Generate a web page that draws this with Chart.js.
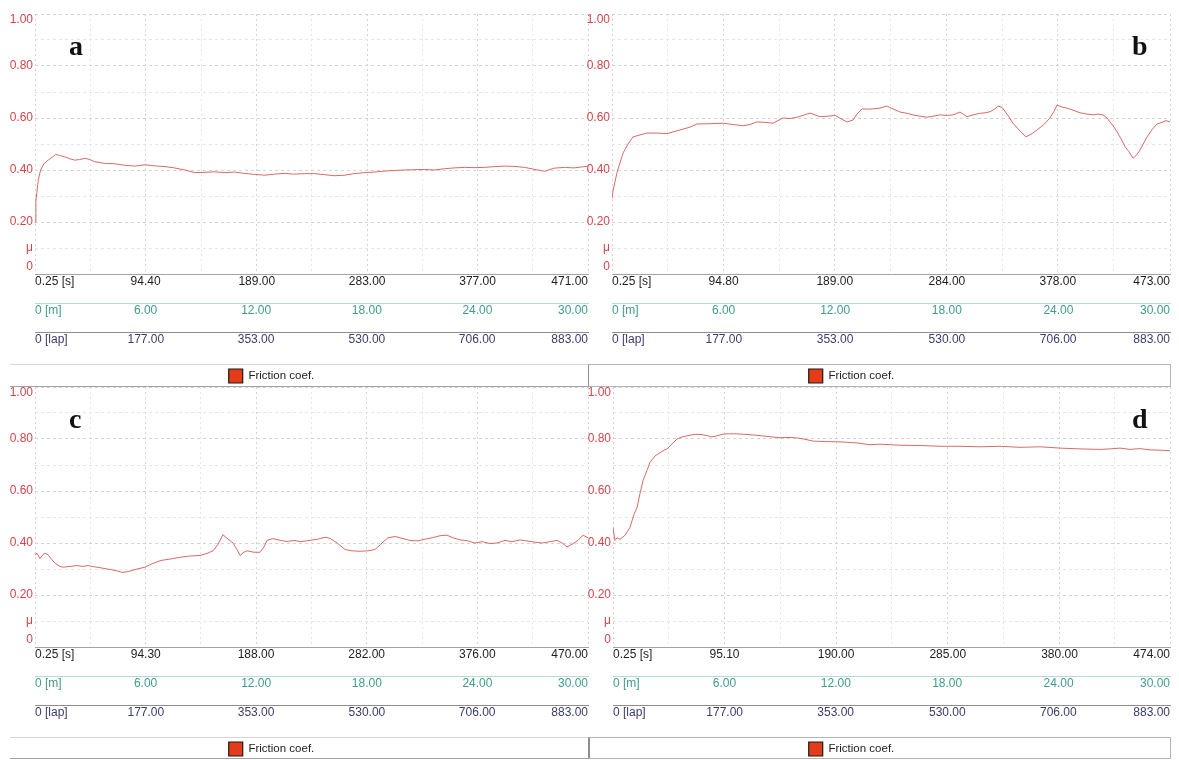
<!DOCTYPE html>
<html>
<head>
<meta charset="utf-8">
<title>Friction coefficient</title>
<script src="https://cdn.jsdelivr.net/npm/chart.js@4.4.1/dist/chart.umd.min.js"></script>
<style>
  html, body { margin: 0; padding: 0; background: #fff; }
  body { position: relative; width: 1179px; height: 760px; overflow: hidden; }
  .frame { position: absolute; box-sizing: border-box; }
  canvas { position: absolute; }
</style>
</head>
<body>
<div class="frame" style="left:10px;top:364px;width:579px;height:23px;border-top:1px solid #d6d6d6;border-bottom:1px solid #a2a2a2;border-right:1px solid #8e8e8e;"></div>
<div class="frame" style="left:588px;top:364px;width:583px;height:23px;border:1px solid #b4b4b4;border-left-color:#8e8e8e;"></div>
<div class="frame" style="left:10px;top:737px;width:580px;height:22px;border-top:1px solid #d6d6d6;border-bottom:1px solid #a2a2a2;border-right:1px solid #8e8e8e;"></div>
<div class="frame" style="left:588px;top:737px;width:583px;height:22px;border:1px solid #b4b4b4;border-left-color:#8e8e8e;"></div>
<script>
const FONT = '"Liberation Sans", Arial, sans-serif';

// ---- axis tick values and labels ----
const muTicks  = [0, 0.1, 0.2, 0.3, 0.4, 0.5, 0.6, 0.7, 0.8, 0.9, 1.0];
const muLabels = ['0', 'μ', '0.20', '', '0.40', '', '0.60', '', '0.80', '', '1.00'];

const distTicks  = [0, 6, 12, 18, 24, 30];
const distLabels = ['0 [m]', '6.00', '12.00', '18.00', '24.00', '30.00'];
const lapTicks   = [0, 177, 353, 530, 706, 883];
const lapLabels  = ['0 [lap]', '177.00', '353.00', '530.00', '706.00', '883.00'];

const secTicksA  = [0.25, 94.4, 189, 283, 377, 471];
const secLabelsA = ['0.25 [s]', '94.40', '189.00', '283.00', '377.00', '471.00'];
const secTicksB  = [0.25, 94.8, 189, 284, 378, 473];
const secLabelsB = ['0.25 [s]', '94.80', '189.00', '284.00', '378.00', '473.00'];
const secTicksC  = [0.25, 94.3, 188, 282, 376, 470];
const secLabelsC = ['0.25 [s]', '94.30', '188.00', '282.00', '376.00', '470.00'];
const secTicksD  = [0.25, 95.1, 190, 285, 380, 474];
const secLabelsD = ['0.25 [s]', '95.10', '190.00', '285.00', '380.00', '474.00'];

// ---- friction coefficient records (time in s, mu) ----
const timeA = [0.25, 1, 3, 5, 8, 12, 16, 18, 21, 26, 30, 34, 38, 43, 47, 51, 60, 68, 77, 85,
  94, 102, 111, 119, 128, 136, 145, 153, 162, 170, 179, 187, 196, 204, 213, 221, 230, 238, 247, 255,
  264, 272, 281, 289, 298, 306, 315, 323, 332, 340, 349, 357, 366, 374, 383, 391, 400, 408, 417, 425,
  434, 442, 451, 459, 466, 471];
const muA = [0.20, 0.28, 0.36, 0.40, 0.425, 0.44, 0.452, 0.46, 0.456, 0.45, 0.443, 0.438, 0.44, 0.445, 0.44, 0.432, 0.425, 0.424, 0.418, 0.415,
  0.42, 0.416, 0.413, 0.408, 0.40, 0.39, 0.391, 0.393, 0.39, 0.392, 0.387, 0.383, 0.38, 0.384, 0.387, 0.384, 0.386, 0.386, 0.382, 0.378,
  0.38, 0.386, 0.39, 0.392, 0.396, 0.398, 0.40, 0.401, 0.402, 0.40, 0.405, 0.408, 0.41, 0.409, 0.41, 0.413, 0.415, 0.414, 0.41, 0.403,
  0.395, 0.407, 0.41, 0.408, 0.412, 0.415];

const timeB = [0.25, 1.1, 4.5, 9.6, 13.8, 18, 24, 29.9, 38.4, 46.8, 57.9, 66.3, 72.3, 83.3, 94.3, 102.8, 111.2, 117.2, 123.1, 129.9,
  136.7, 145.1, 151.1, 157, 162.1, 168, 176.5, 183.3, 189.2, 195.1, 199.4, 204.4, 207.8, 212.1, 218.8, 227.3, 233.2, 238.3, 244.2, 250.2,
  255.3, 261.2, 267.1, 272.2, 278.1, 284.1, 289.1, 295.1, 301, 306.1, 312, 316.3, 320.5, 324.7, 327.3, 330.7, 335.7, 340, 345.9, 351,
  356.1, 360.3, 366.2, 371.3, 374.7, 377.3, 381.5, 385.7, 390.8, 396.7, 402.7, 407.8, 412, 416.2, 419.6, 422.2, 425.6, 428.1, 431.5, 434.9,
  438.3, 441.7, 445.1, 447.6, 453.5, 457.8, 462, 467.1, 469.6, 473];
const muB = [0.29, 0.32, 0.39, 0.465, 0.50, 0.527, 0.535, 0.542, 0.542, 0.54, 0.554, 0.565, 0.577, 0.578, 0.58, 0.575, 0.57, 0.575, 0.585, 0.583,
  0.58, 0.60, 0.598, 0.603, 0.61, 0.619, 0.605, 0.607, 0.61, 0.595, 0.585, 0.592, 0.615, 0.635, 0.634, 0.638, 0.646, 0.635, 0.623, 0.618,
  0.612, 0.607, 0.603, 0.607, 0.612, 0.61, 0.612, 0.623, 0.605, 0.612, 0.618, 0.62, 0.624, 0.635, 0.646, 0.641, 0.61, 0.58, 0.55, 0.527,
  0.54, 0.554, 0.575, 0.60, 0.625, 0.65, 0.642, 0.638, 0.63, 0.62, 0.615, 0.612, 0.615, 0.612, 0.60, 0.585, 0.565, 0.547, 0.52, 0.49,
  0.47, 0.445, 0.46, 0.477, 0.527, 0.555, 0.577, 0.585, 0.59, 0.585];

const timeC = [0.25, 2, 4.5, 7, 8.7, 11.3, 13, 17.2, 21.5, 24, 30, 35.9, 41, 45.3, 51.2, 55.5, 64, 70.8, 74.2, 79.3,
  85.2, 93.7, 99.6, 107.3, 114.9, 123.4, 131.9, 140.4, 146.4, 151.5, 155.7, 159.9, 164.2, 168.5, 171.8, 174.4, 177.8, 180.3, 185.4, 191.4,
  194.8, 197.3, 202.4, 208.4, 214.3, 221.1, 225.4, 233.9, 240.7, 246.6, 250.9, 256.8, 263.6, 269.5, 276.3, 283.1, 289.1, 295, 300.1, 306.1,
  312, 318.8, 325.6, 331.6, 337.5, 344.3, 350.2, 355.3, 361.3, 368.1, 374, 380, 386.8, 392.7, 399.5, 405.5, 412.3, 418.2, 425, 431,
  437.7, 443.7, 448, 452.2, 456.4, 461.5, 465.8, 470];
const muC = [0.355, 0.36, 0.34, 0.355, 0.36, 0.355, 0.345, 0.322, 0.31, 0.307, 0.31, 0.313, 0.31, 0.313, 0.308, 0.305, 0.298, 0.292, 0.287, 0.29,
  0.298, 0.307, 0.32, 0.333, 0.338, 0.345, 0.35, 0.352, 0.36, 0.37, 0.395, 0.432, 0.415, 0.40, 0.375, 0.352, 0.365, 0.37, 0.365, 0.364,
  0.385, 0.41, 0.417, 0.41, 0.406, 0.41, 0.405, 0.41, 0.415, 0.422, 0.418, 0.40, 0.375, 0.37, 0.368, 0.37, 0.375, 0.40, 0.42, 0.425,
  0.418, 0.41, 0.408, 0.415, 0.42, 0.428, 0.43, 0.42, 0.412, 0.408, 0.40, 0.405, 0.398, 0.40, 0.41, 0.405, 0.412, 0.408, 0.403, 0.40,
  0.405, 0.41, 0.40, 0.385, 0.395, 0.41, 0.43, 0.42];

const timeD = [0.25, 1.95, 3.65, 6.2, 10.5, 14.7, 18.1, 20.7, 23.2, 25.8, 29.2, 31.7, 36, 40.2, 43.6, 46.2, 50.4, 54.7, 58.9, 63.2,
  67.4, 71.7, 75.9, 80.2, 84.4, 88.7, 92.9, 97.2, 104, 112.5, 121, 131.2, 142.3, 150.8, 159.3, 170.4, 180.6, 193.3, 207.8, 218.8,
  227.3, 244.3, 261.4, 278.4, 295.4, 312.4, 329.4, 346.4, 363.4, 380.4, 397.4, 414.4, 423, 431.5, 440, 448.5, 457, 465.5, 474];
const muD = [0.46, 0.41, 0.42, 0.414, 0.43, 0.46, 0.51, 0.536, 0.59, 0.64, 0.68, 0.71, 0.735, 0.747, 0.757, 0.762, 0.78, 0.80, 0.808, 0.812,
  0.816, 0.818, 0.817, 0.813, 0.808, 0.812, 0.818, 0.82, 0.82, 0.818, 0.815, 0.81, 0.805, 0.806, 0.803, 0.792, 0.79, 0.789, 0.785, 0.778,
  0.78, 0.776, 0.775, 0.772, 0.772, 0.77, 0.772, 0.768, 0.77, 0.765, 0.762, 0.76, 0.762, 0.765, 0.76, 0.763, 0.758, 0.757, 0.755];

// ---- styling ----
const LINE_COLOR = '#d86a66';
const MU_COLOR = '#d2464a';
const SEC_COLOR = '#1e1e1e';
const DIST_COLOR = '#3f9b8e';
const LAP_COLOR = '#3a3c6c';
const GRID_MAJOR = '#d4d4d4';
const GRID_MINOR = '#e6e6e6';

// y labels drawn beside the axis (end labels kept inside the plot height), plus the panel letter
const panelDecor = {
  id: 'panelDecor',
  afterDraw(chart, args, opts) {
    const { ctx, chartArea } = chart;
    const y = chart.scales.y;
    ctx.save();
    ctx.font = '12px ' + FONT;
    ctx.fillStyle = MU_COLOR;
    ctx.textAlign = 'right';
    ctx.textBaseline = 'middle';
    muTicks.forEach((v, i) => {
      if (!muLabels[i]) return;
      let py = y.getPixelForValue(v);
      py = Math.min(Math.max(py, chartArea.top + 6), chartArea.bottom - 7);
      ctx.fillText(muLabels[i], chartArea.left - 2, py);
    });
    ctx.font = 'bold 28px "Liberation Serif", "Times New Roman", serif';
    ctx.fillStyle = '#111';
    ctx.textAlign = 'left';
    ctx.textBaseline = 'alphabetic';
    const lx = opts.side === 'left' ? chartArea.left + 34 : chartArea.right - 38;
    ctx.fillText(opts.letter, lx, chartArea.top + 41);
    ctx.restore();
  }
};

function withMidpoints(ticks) {
  const out = [];
  ticks.forEach((v, i) => {
    out.push(v);
    if (i < ticks.length - 1) out.push((v + ticks[i + 1]) / 2);
  });
  return out;
}

function bottomAxis(min, max, ticks, labels, color, height, weight, border) {
  return {
    type: 'linear', position: 'bottom', weight, min, max,
    afterBuildTicks: s => { s.ticks = ticks.map(v => ({ value: v })); },
    afterFit: s => { s.height = height; },
    ticks: {
      autoSkip: false, maxRotation: 0, minRotation: 0, align: 'inner', padding: 0,
      color, font: { size: 12, family: FONT },
      callback: (v, i) => labels[i]
    },
    grid: { display: false, drawTicks: false },
    border: { display: true, color: border, width: 1 }
  };
}

function makePanel(p) {
  const canvas = document.createElement('canvas');
  canvas.width = p.w; canvas.height = p.h;
  canvas.style.left = p.x + 'px';
  canvas.style.top = p.y + 'px';
  canvas.style.width = p.w + 'px';
  canvas.style.height = p.h + 'px';
  document.body.appendChild(canvas);

  const secGrid = withMidpoints(p.secTicks);

  new Chart(canvas.getContext('2d'), {
    type: 'line',
    data: {
      datasets: [{
        label: 'Friction coef.',
        data: p.time.map((t, i) => ({ x: t, y: p.mu[i] })),
        borderColor: LINE_COLOR,
        backgroundColor: '#e23c18',
        borderWidth: 1,
        pointRadius: 0,
        tension: 0,
        fill: false,
        xAxisID: 'x',
        yAxisID: 'y'
      }]
    },
    options: {
      responsive: false,
      animation: false,
      devicePixelRatio: 1,
      layout: { padding: { left: 0, right: 2, top: 14, bottom: 0 } },
      plugins: {
        legend: {
          position: 'bottom',
          labels: {
            boxWidth: 14, boxHeight: 14, padding: 6, color: '#222',
            font: { size: 11.5, family: FONT },
            generateLabels: chart => chart.data.datasets.map((ds, i) => ({
              text: ds.label, fillStyle: ds.backgroundColor, strokeStyle: '#1a1a1a',
              lineWidth: 1.2, hidden: false, datasetIndex: i, fontColor: '#222'
            }))
          }
        },
        tooltip: { enabled: false },
        panelDecor: { letter: p.letter, side: p.side }
      },
      scales: {
        x: {
          type: 'linear', position: 'bottom', weight: 0,
          min: p.secTicks[0], max: p.secTicks[p.secTicks.length - 1],
          afterBuildTicks: s => { s.ticks = secGrid.map(v => ({ value: v })); },
          afterFit: s => { s.height = 29; },
          ticks: {
            autoSkip: false, maxRotation: 0, minRotation: 0, align: 'inner', padding: 0,
            color: SEC_COLOR, font: { size: 12, family: FONT },
            callback: (v, i) => (i % 2 === 0 ? p.secLabels[i / 2] : '')
          },
          grid: {
            drawTicks: false, lineWidth: 1,
            color: c => (c.index % 2 === 0 ? GRID_MAJOR : GRID_MINOR)
          },
          border: { display: true, color: '#a3a3a3', width: 1, dash: [2, 3] }
        },
        xm: bottomAxis(distTicks[0], distTicks[distTicks.length - 1], distTicks, distLabels, DIST_COLOR, 29, 1, '#b7dad3'),
        xl: bottomAxis(lapTicks[0], lapTicks[lapTicks.length - 1], lapTicks, lapLabels, LAP_COLOR, 31, 2, '#8d8d8d'),
        y: {
          type: 'linear', position: 'left', min: 0, max: 1,
          afterBuildTicks: s => { s.ticks = muTicks.map(v => ({ value: v })); },
          afterFit: s => { s.width = p.yw; },
          ticks: { display: false },
          grid: {
            drawTicks: false, lineWidth: 1,
            color: c => (c.index % 2 === 0 ? GRID_MAJOR : GRID_MINOR)
          },
          border: { display: false, dash: [3, 3] }
        }
      }
    },
    plugins: [panelDecor]
  });
}

makePanel({ x: -45, y: 0,   w: 635, h: 393, yw: 80, time: timeA, mu: muA, secTicks: secTicksA, secLabels: secLabelsA, letter: 'a', side: 'left' });
makePanel({ x: 533, y: 0,   w: 639, h: 393, yw: 79, time: timeB, mu: muB, secTicks: secTicksB, secLabels: secLabelsB, letter: 'b', side: 'right' });
makePanel({ x: -45, y: 373, w: 635, h: 393, yw: 80, time: timeC, mu: muC, secTicks: secTicksC, secLabels: secLabelsC, letter: 'c', side: 'left' });
makePanel({ x: 533, y: 373, w: 639, h: 393, yw: 80, time: timeD, mu: muD, secTicks: secTicksD, secLabels: secLabelsD, letter: 'd', side: 'right' });
</script>
</body>
</html>
